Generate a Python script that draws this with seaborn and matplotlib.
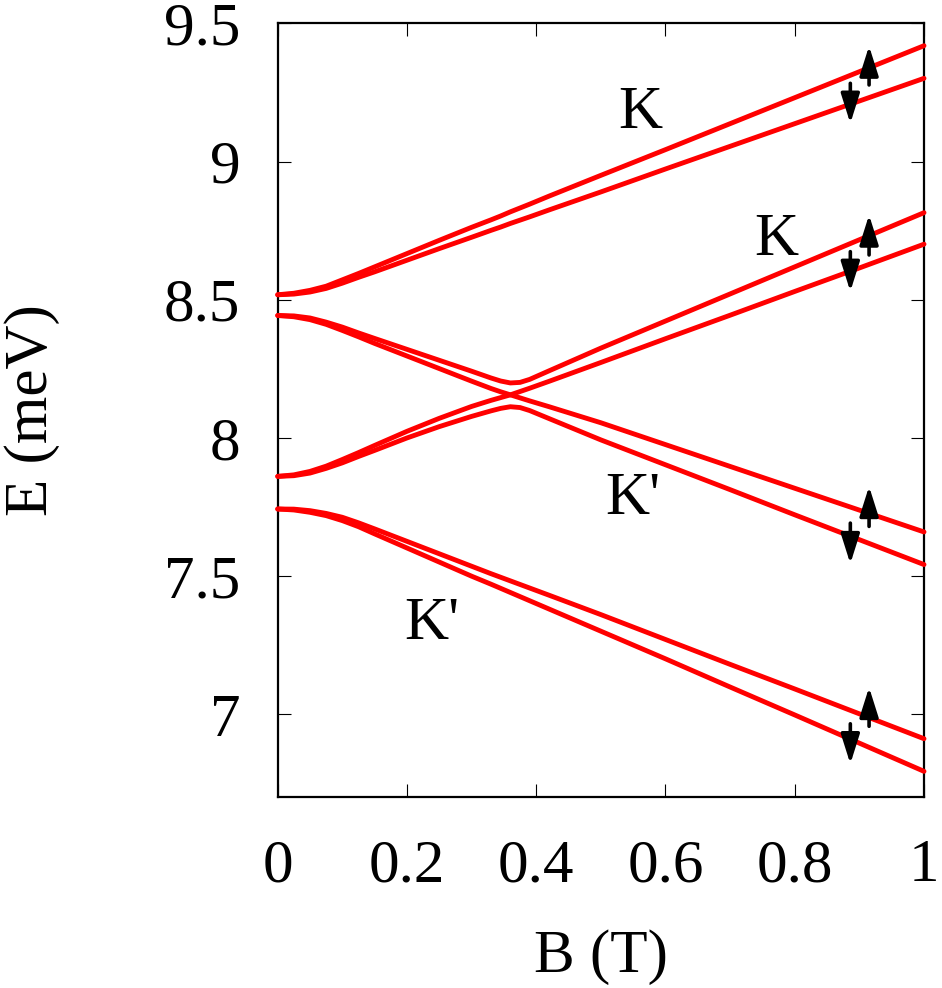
import numpy as np
import pandas as pd
import matplotlib
matplotlib.use("Agg")
import matplotlib.pyplot as plt
import seaborn as sns

# Campo magnetico (T)
B = [0, 0.025, 0.05, 0.075, 0.1, 0.125, 0.15, 0.2, 0.25, 0.3, 0.33, 0.345, 0.36,
     0.375, 0.39, 0.42, 0.5, 0.6, 0.7, 0.8, 0.9, 1.0]

# Niveles de energia (meV)
K_alto_up = [8.518, 8.5235, 8.534, 8.549, 8.572, 8.595, 8.619, 8.667, 8.715, 8.762,
             8.789, 8.803, 8.818, 8.832, 8.846, 8.875, 8.950, 9.043, 9.137, 9.231,
             9.325, 9.419]
K_alto_down = [8.518, 8.5205, 8.528, 8.541, 8.560, 8.581, 8.601, 8.643, 8.685, 8.726,
               8.751, 8.763, 8.776, 8.788, 8.800, 8.825, 8.890, 8.973, 9.055, 9.137,
               9.219, 9.301]
cruce_sup = [8.443, 8.4415, 8.434, 8.419, 8.401, 8.380, 8.360, 8.3205, 8.281, 8.2415,
             8.217, 8.206, 8.199, 8.201, 8.212, 8.243, 8.325, 8.423, 8.521, 8.619,
             8.717, 8.815]
cruce_int1 = [8.443, 8.4385, 8.428, 8.411, 8.389, 8.366, 8.342, 8.2965, 8.251, 8.2055,
              8.179, 8.167, 8.156, 8.145, 8.134, 8.113, 8.055, 7.976, 7.897, 7.818,
              7.739, 7.660]
cruce_int2 = [7.861, 7.8665, 7.879, 7.898, 7.922, 7.947, 7.973, 8.024, 8.071, 8.114,
              8.136, 8.146, 8.156, 8.168, 8.180, 8.205, 8.273, 8.359, 8.444, 8.530,
              8.615, 8.701]
cruce_inf = [7.861, 7.8635, 7.873, 7.890, 7.910, 7.933, 7.955, 8.000, 8.041, 8.078,
             8.098, 8.107, 8.113, 8.110, 8.099, 8.070, 7.993, 7.903, 7.813, 7.722,
             7.632, 7.542]
Kp_bajo_up = [7.743, 7.7425, 7.737, 7.727, 7.713, 7.693, 7.671, 7.626, 7.581, 7.536,
              7.509, 7.496, 7.483, 7.470, 7.457, 7.431, 7.361, 7.271, 7.181, 7.092,
              7.002, 6.912]
Kp_bajo_down = [7.743, 7.7395, 7.731, 7.719, 7.701, 7.679, 7.653, 7.602, 7.551, 7.500,
                7.471, 7.456, 7.441, 7.426, 7.411, 7.381, 7.301, 7.201, 7.099, 6.998,
                6.896, 6.794]

niveles = [K_alto_up, K_alto_down, cruce_sup, cruce_int1, cruce_int2, cruce_inf,
           Kp_bajo_up, Kp_bajo_down]

x_ticks = [0, 0.2, 0.4, 0.6, 0.8, 1]
x_labels = ['0', '0.2', '0.4', '0.6', '0.8', '1']
y_ticks = [7, 7.5, 8, 8.5, 9, 9.5]
y_labels = ['7', '7.5', '8', '8.5', '9', '9.5']

# Flechas de espin: (B, E inicio, E fin)
flechas = [(0.915, 9.277, 9.418), (0.886, 9.283, 9.138),
           (0.915, 8.662, 8.807), (0.886, 8.674, 8.530),
           (0.915, 7.680, 7.825), (0.886, 7.692, 7.545),
           (0.915, 6.957, 7.098), (0.886, 6.966, 6.821)]

# Etiquetas de valle: (B, E, texto)
valles = [(0.561, 9.176, 'K'), (0.771, 8.717, 'K'),
          (0.549, 7.777, "K'"), (0.238, 7.325, "K'")]

sns.set_style('ticks')
plt.rcParams['font.family'] = ['Liberation Serif', 'DejaVu Serif']
plt.rcParams['text.color'] = 'black'
plt.rcParams['axes.labelcolor'] = 'black'
plt.rcParams['axes.edgecolor'] = 'black'
plt.rcParams['xtick.color'] = 'black'
plt.rcParams['ytick.color'] = 'black'

fig = plt.figure(figsize=(9.42, 9.88), dpi=100)
ax = fig.add_axes([0.2948, 0.1930, 0.6861, 0.7834])

for E in niveles:
    df = pd.DataFrame({'B': B, 'E': E})
    sns.lineplot(data=df, x='B', y='E', ax=ax, color='#ff0000', lw=3.5,
                 sort=False, estimator=None, zorder=5, clip_on=False,
                 solid_capstyle='round', solid_joinstyle='round')

for b, e0, e1 in flechas:
    ax.annotate('', xy=(b, e1), xytext=(b, e0),
                arrowprops=dict(arrowstyle='-|>,head_length=0.95,head_width=0.3',
                                mutation_scale=19, lw=2.6, color='black',
                                shrinkA=0, shrinkB=0), zorder=6)

for b, e, t in valles:
    ax.text(b, e, t, fontsize=44, ha='center', va='center', color='black')

ax.set_xlim(0, 1)
ax.set_ylim(6.70, 9.5)
ax.set_xticks(x_ticks)
ax.set_xticklabels(x_labels)
ax.set_yticks(y_ticks)
ax.set_yticklabels(y_labels)
ax.tick_params(direction='in', length=9.5, width=0.8, top=True, right=True,
               labelsize=44, pad=27)
ax.tick_params(axis='x', pad=30)
for s in ax.spines.values():
    s.set_linewidth(1.6)
    s.set_color('black')

ax.set_xlabel('B (T)', fontsize=44)
ax.set_ylabel('E (meV)', fontsize=44)
ax.xaxis.set_label_coords(0.5, -0.170)
ax.yaxis.set_label_coords(-0.337, 0.5)

fig.savefig('out.png', dpi=100)
